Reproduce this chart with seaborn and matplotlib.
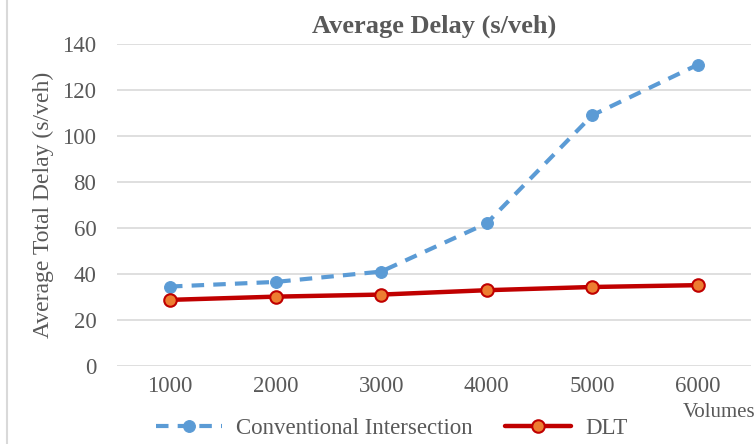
import pandas as pd
import matplotlib.pyplot as plt
import seaborn as sns
from matplotlib.lines import Line2D

volumes = ["1000", "2000", "3000", "4000", "5000", "6000"]
conventional = [34.5, 36.5, 41, 62, 109, 131]
dlt = [28.7, 30.1, 31.0, 32.9, 34.3, 35.1]

sns.set_style("white")
plt.rcParams['font.family'] = ['Liberation Serif', 'DejaVu Serif']
grey = "#595959"
fs = 16.5

df = pd.DataFrame({
    "Volumes": volumes * 2,
    "Delay": conventional + dlt,
    "Series": ["Conventional Intersection"] * 6 + ["DLT"] * 6,
})

fig = plt.figure(figsize=(7.56, 4.44), dpi=100)
ax = fig.add_axes([0.155, 0.176, 0.838, 0.725])

sns.lineplot(data=df[df.Series == "Conventional Intersection"], x="Volumes", y="Delay",
             ax=ax, color="#5B9BD5", lw=3, dashes=False, linestyle=(0, (3, 2.2)),
             marker="o", markersize=8.5, markeredgecolor="#5B9BD5",
             label="Conventional Intersection")
sns.lineplot(data=df[df.Series == "DLT"], x="Volumes", y="Delay",
             ax=ax, color="#C00000", lw=3.2, marker="o", markersize=9,
             markerfacecolor="#ED7D31", markeredgecolor="#C00000", markeredgewidth=1.5,
             label="DLT")

ax.set_xlim(-0.5, 5.5)
ax.set_ylim(0, 140)
ax.set_yticks(range(0, 141, 20))
ax.yaxis.grid(True, color="#D9D9D9", lw=1.2)
ax.xaxis.grid(False)
for s in ax.spines.values():
    s.set_visible(False)
ax.tick_params(axis="both", length=0, labelsize=fs, colors=grey, pad=7)
ax.tick_params(axis="y", pad=15)
ax.set_xlabel("")
ax.set_ylabel("Average Total Delay (s/veh)", fontsize=17, color=grey, labelpad=6)
ax.set_title("Average Delay (s/veh)", fontsize=19, fontweight="bold", color=grey, pad=8)

fig.text(0.999, 0.07, "Volumes", fontsize=15, color=grey, ha="right", va="center")

h, l = ax.get_legend_handles_labels()
ax.legend(h, l, loc="center", bbox_to_anchor=(0.518, 0.036), bbox_transform=fig.transFigure,
          ncol=2, frameon=False, fontsize=fs, labelcolor=grey, handlelength=2.9,
          columnspacing=1.4, handletextpad=0.6, borderaxespad=0)

fig.add_artist(Line2D([0.009, 0.009], [0, 1], transform=fig.transFigure, color="#D9D9D9", lw=1.5))

fig.savefig("out.png", dpi=100)
